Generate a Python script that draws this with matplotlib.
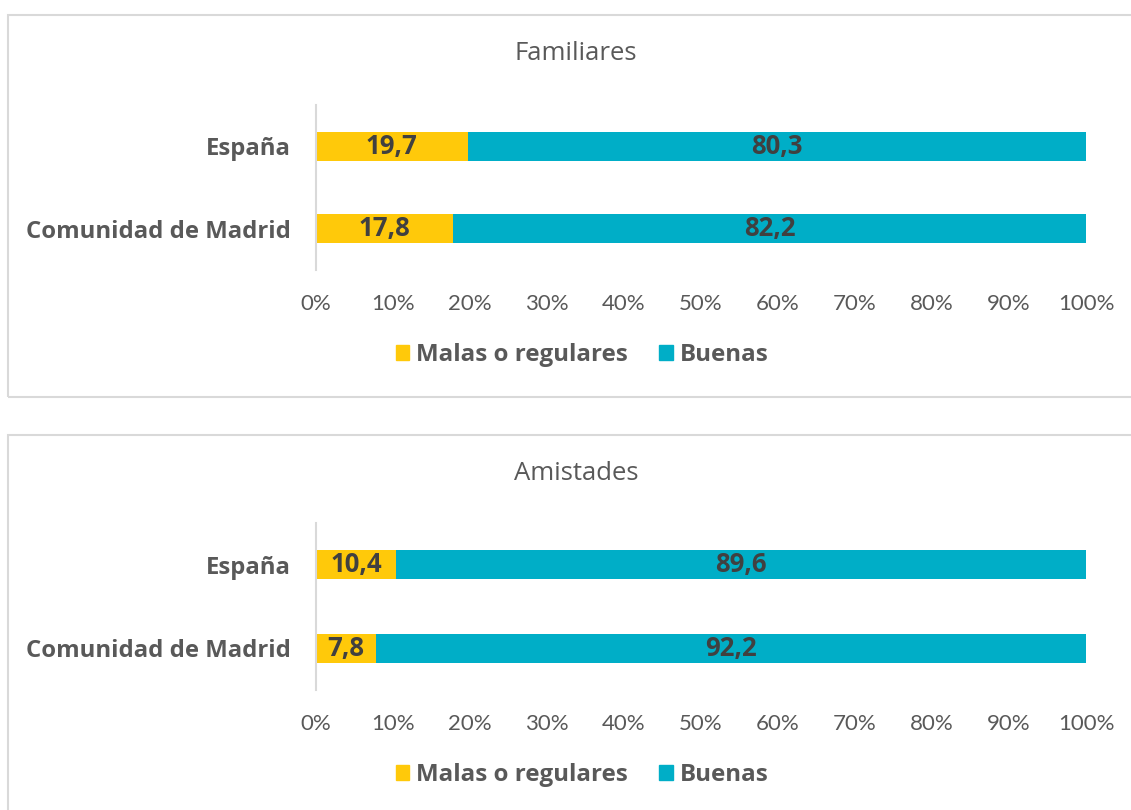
import matplotlib.pyplot as plt
from matplotlib.patches import Rectangle, Patch

# datos
regiones = ['Comunidad de Madrid', 'España']
titulos = ['Familiares', 'Amistades']
malas = [[17.8, 19.7], [7.8, 10.4]]
buenas = [[82.2, 80.3], [92.2, 89.6]]
ticks = [0, 10, 20, 30, 40, 50, 60, 70, 80, 90, 100]
tick_labels = [f'{t}%' for t in ticks]
serie_nombres = ['Malas o regulares', 'Buenas']

amarillo = '#FFC90A'
azul = '#00AEC7'
gris = '#595959'
gris_oscuro = '#404040'

plt.rcParams['font.family'] = ['Open Sans', 'DejaVu Sans']

W, H = 1131, 810
fig = plt.figure(figsize=(W / 100, H / 100), dpi=100)

# marcos de cada panel (en pixeles)
marcos = [(8, 15, 1200, 397), (8, 435, 1200, 900)]
for x0, y0, x1, y1 in marcos:
    fig.add_artist(Rectangle((x0 / W, 1 - y1 / H), (x1 - x0) / W, (y1 - y0) / H,
                             transform=fig.transFigure, fill=False,
                             edgecolor='#D9D9D9', linewidth=1.5))

# posiciones de los ejes: top y bottom del eje en pixeles
paneles = [(105, 270, 54, 301, 355), (523, 690, 474, 721, 775)]

for i, (ytop, ybot, ytit, ytick, yleg) in enumerate(paneles):
    ax = fig.add_axes([316 / W, 1 - ybot / H, 770 / W, (ybot - ytop) / H])
    pos = list(range(len(regiones)))
    b1 = ax.barh(pos, malas[i], height=0.35, color=amarillo, label=serie_nombres[0])
    b2 = ax.barh(pos, buenas[i], left=malas[i], height=0.35, color=azul, label=serie_nombres[1])
    for p, m, b in zip(pos, malas[i], buenas[i]):
        ax.text(m / 2, p, f'{m:.1f}'.replace('.', ','), ha='center', va='center',
                fontsize=18.5, fontweight='bold', color=gris_oscuro)
        ax.text(m + b / 2, p, f'{b:.1f}'.replace('.', ','), ha='center', va='center',
                fontsize=18.5, fontweight='bold', color=gris_oscuro)
    ax.set_xlim(0, 100)
    ax.set_ylim(-0.5, 1.5)
    ax.set_yticks(pos)
    ax.set_yticklabels(regiones, fontsize=17.2, fontweight='bold', color=gris)
    ax.set_xticks(ticks)
    ax.set_xticklabels(tick_labels, fontsize=16, color=gris, family=['Lato', 'DejaVu Sans'])
    ax.tick_params(axis='both', length=0)
    ax.tick_params(axis='y', pad=18)
    ax.tick_params(axis='x', pad=(ytick - ybot) - 14)
    for s in ['top', 'right', 'bottom']:
        ax.spines[s].set_visible(False)
    ax.spines['left'].set_color('#D9D9D9')
    ax.spines['left'].set_linewidth(1.5)

    fig.text(576 / W, 1 - ytit / H, titulos[i], ha='center', va='center',
             fontsize=18.5, color=gris)

    handles = [Patch(color=amarillo), Patch(color=azul)]
    fig.legend(handles, serie_nombres, loc='center', bbox_to_anchor=(582 / W, 1 - yleg / H),
               ncol=2, frameon=False, handlelength=0.55, handleheight=0.55,
               handletextpad=0.3, columnspacing=1.3,
               prop={'size': 17.4, 'weight': 'bold'}, labelcolor=gris)

fig.savefig('out.png', dpi=100)
